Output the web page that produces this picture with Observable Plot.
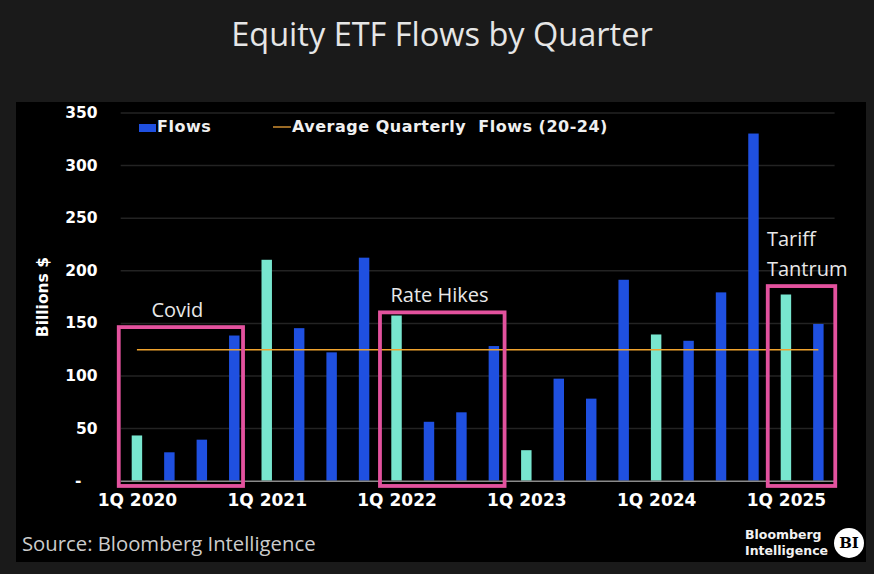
<!DOCTYPE html>
<html>
<head>
<meta charset="utf-8">
<script src="https://cdn.jsdelivr.net/npm/d3@7"></script>
<script src="https://cdn.jsdelivr.net/npm/@observablehq/plot@0.6"></script>
<style>
  html, body { margin: 0; padding: 0; }
  body { width: 874px; height: 574px; background: #1a1a1a; position: relative; overflow: hidden; font-family: "Open Sans", sans-serif; }
  #title { position: absolute; left: 0; width: 884px; top: 11px; text-align: center; color: #e6e6e6; font-size: 32.5px; font-family: "Open Sans", sans-serif; }
  #panel { position: absolute; left: 16px; top: 102px; width: 850px; height: 460px; background: #000; }
  #chart { position: absolute; left: 0; top: 0; }
  .leg { position: absolute; color: #f0f0f0; font-family: "DejaVu Sans", sans-serif; font-weight: bold; font-size: 16px; letter-spacing: 0.5px; line-height: 18px; white-space: pre; }
  #source { position: absolute; left: 6px; top: 427px; color: #cccccc; font-size: 20.3px; font-family: "Open Sans", sans-serif; }
  #bi { position: absolute; left: 729px; top: 425px; color: #f2f2f2; font-family: "DejaVu Sans", sans-serif; font-weight: bold; font-size: 12.5px; line-height: 16px; }
  #bilogo { position: absolute; left: 818px; top: 426px; width: 30px; height: 30px; border-radius: 50%; background: #fff; color: #000; font-family: "DejaVu Serif", serif; font-weight: bold; font-size: 15px; line-height: 30px; text-align: center; }
</style>
</head>
<body>
<div id="title">Equity ETF Flows by Quarter</div>
<div id="panel">
  <div id="chart"></div>
  <div style="position:absolute;left:123px;top:22px;width:17px;height:8px;background:#1f50e0"></div>
  <div class="leg" style="left:141px;top:16px">Flows</div>
  <div style="position:absolute;left:257px;top:24px;width:18px;height:2px;background:#9a6a25"></div>
  <div class="leg" style="left:276px;top:16px">Average Quarterly  Flows (20-24)</div>
  <div id="source">Source: Bloomberg Intelligence</div>
  <div id="bi">Bloomberg<br>Intelligence</div>
  <div id="bilogo">BI</div>
</div>
<script>
// ---- data ----
const quarters = [
  "1Q 2020","2Q 2020","3Q 2020","4Q 2020",
  "1Q 2021","2Q 2021","3Q 2021","4Q 2021",
  "1Q 2022","2Q 2022","3Q 2022","4Q 2022",
  "1Q 2023","2Q 2023","3Q 2023","4Q 2023",
  "1Q 2024","2Q 2024","3Q 2024","4Q 2024",
  "1Q 2025","2Q 2025"
];
const flows = [43, 27, 39, 138, 210, 145, 122, 212, 157, 56, 65, 128, 29, 97, 78, 191, 139, 133, 179, 330, 177, 149];
const avgQuarterlyFlow = 125;
const yTicks = [0, 50, 100, 150, 200, 250, 300, 350];
const xTickLabels = ["1Q 2020", "1Q 2021", "1Q 2022", "1Q 2023", "1Q 2024", "1Q 2025"];
// annotation boxes, in quarter-index and Billions $ units
const boxLabels = ["Covid", "Rate Hikes", "Tariff\nTantrum"];
const boxFrom   = [-0.56, 7.49, 19.44];
const boxTo     = [3.27, 11.33, 21.52];
const boxTop    = [146, 160, 185];
const boxBottom = [-5, -5, -5];
const labelX    = [1.23, 9.31, 19.4];
const labelAnchor = ["middle", "middle", "start"];

// ---- build ----
const teal = "#78e6cf", blue = "#1f50e0", pink = "#e3529e", orange = "#f0a32e";
const data = quarters.map((q, i) => ({i, q, value: flows[i], first: q.startsWith("1Q")}));
const boxes = boxLabels.map((label, k) => ({label, from: boxFrom[k], to: boxTo[k], top: boxTop[k], bottom: boxBottom[k], lx: labelX[k], anchor: labelAnchor[k]}));

const chart = Plot.plot({
  width: 850,
  height: 410,
  marginLeft: 104.7,
  marginRight: 31.4,
  marginTop: 10.5,
  marginBottom: 31.3,
  style: {background: "transparent", color: "#ffffff", fontFamily: "DejaVu Sans, sans-serif", fontSize: "15.5px", fontWeight: "bold", overflow: "visible"},
  x: {domain: [-0.5, quarters.length - 0.5]},
  y: {domain: [0, 350]},
  marks: [
    Plot.ruleY(yTicks.filter(d => d > 0), {stroke: "#232323", strokeWidth: 1.5}),
    Plot.rectY(data, {x1: d => d.i - 0.5, x2: d => d.i + 0.5, y: "value", fill: d => d.first ? teal : blue, insetLeft: 11, insetRight: 11}),
    Plot.ruleY([0], {stroke: "#8a8a8a", strokeWidth: 1.5}),
    Plot.ruleY([avgQuarterlyFlow], {x1: 0, x2: quarters.length - 1, stroke: orange, strokeWidth: 1.6}),
    Plot.rect(boxes, {x1: "from", x2: "to", y1: "bottom", y2: "top", fill: "none", stroke: pink, strokeWidth: 3.8}),
    Plot.text(boxes.filter(b => b.anchor === "middle"), {x: "lx", y: "top", text: "label", textAnchor: "middle", lineAnchor: "bottom", dy: -11, fill: "#e8e8e8", fontFamily: "Open Sans", fontWeight: "normal", fontSize: 20}),
    Plot.text(boxes.filter(b => b.anchor === "start"), {x: "lx", y: "top", text: "label", textAnchor: "start", lineAnchor: "bottom", lineHeight: 1.5, dy: -11, fill: "#e8e8e8", fontFamily: "Open Sans", fontWeight: "normal", fontSize: 20}),
    Plot.axisY({ticks: yTicks, tickSize: 0, tickPadding: 23.7, tickFormat: d => d === 0 ? "-\u00a0\u00a0\u00a0" : d, label: "Billions $", labelAnchor: "center", labelOffset: 84, labelArrow: "none", fontSize: 15.5}),
    Plot.axisX({ticks: xTickLabels.map(l => quarters.indexOf(l)), tickFormat: i => quarters[i], tickSize: 0, tickPadding: 13, label: null, fontSize: 17})
  ]
});
document.getElementById("chart").appendChild(chart);
</script>
</body>
</html>
